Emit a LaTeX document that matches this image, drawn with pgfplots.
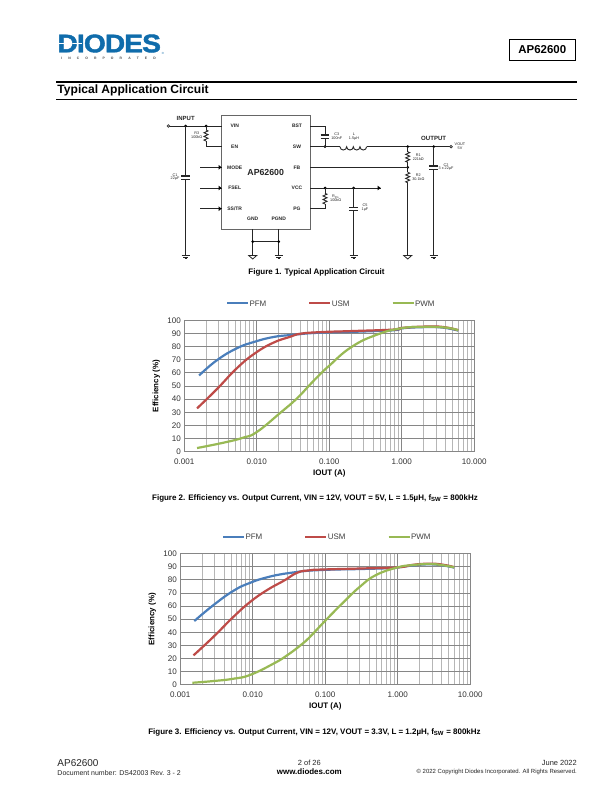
\documentclass[border=0pt]{standalone}
\usepackage{pgfplots}
\pgfplotsset{compat=1.18}
\usepackage{pgfplotstable}
\usepackage{fontspec}
\setmainfont{Liberation Sans}
\newfontfamily\logofont{Liberation Sans}[BoldFeatures={FakeBold=1.6,LetterSpace=-3}]
\definecolor{gridmaj}{HTML}{868686}
\definecolor{gridmin}{HTML}{B6B6B6}
\definecolor{cpfm}{HTML}{4A7EBB}
\definecolor{cusm}{HTML}{BE4B48}
\definecolor{cpwm}{HTML}{98B954}
\definecolor{logoblue}{HTML}{0F6CAB}
\newcommand{\fsz}[1]{\fontsize{#1}{#1}\selectfont}
% Chart data
\pgfplotstableread{
x y
0.0016 58
0.0028 69.5
0.0053 78.7
0.0095 83.8
0.017 87.3
0.029 88.8
0.049 90
0.1 90.8
0.3 91.5
0.8 92.5
1 93.9
2 94.8
3.6 94.5
6 92.2
}\pfmA
\pgfplotstableread{
x y
0.0015 33
0.0028 47.5
0.0053 63.5
0.0095 75
0.017 83
0.029 87.5
0.04 89.8
0.075 91
0.2 91.8
0.8 93
1 94.2
2 95.2
3.6 95
6 92.5
}\usmA
\pgfplotstableread{
x y
0.0015 2.8
0.0035 6.9
0.0065 10.7
0.01 15
0.021 29.5
0.0357 40.5
0.054 51
0.075 59
0.1 65.5
0.2 79.5
0.45 89
1 94
2 95
3.6 94.7
5 93.6
6 92.4
}\pwmA
\pgfplotstableread{
x y
0.00156 48.6
0.00287 60.8
0.00545 71.8
0.0093 77.9
0.0158 82
0.027 84.7
0.046 86.5
0.1 87.7
0.3 88.3
0.8 89
1 89.5
1.6 91
2.7 91.9
4.1 91.1
6 89.4
}\pfmB
\pgfplotstableread{
x y
0.00152 22.4
0.00287 36.6
0.00545 52
0.0093 63.4
0.0158 72.3
0.027 79.5
0.041 85.5
0.06 87.3
0.087 87.9
0.3 88.7
1 89.6
1.6 91.5
2.7 92.4
4.1 91.7
6 89.8
}\usmB
\pgfplotstableread{
x y
0.00147 1.5
0.00287 2.8
0.00545 4.6
0.0093 7.6
0.0196 16.3
0.03 22.6
0.046 30.3
0.0616 36.6
0.1 48.9
0.177 62.8
0.3 74.8
0.5 83.7
1 89.6
1.6 91.3
2.7 92.1
4.1 91.3
6 89.6
}\pwmB
\tikzset{serie/.style={line width=2.2bp,smooth,tension=0.8}}
\newcommand{\ground}[1]{% x position, filled bars to y=255
 \draw[line width=0.9bp] (#1-4,255.5)--(#1+4,255.5);
 \draw[line width=0.9bp] (#1-2.7,257)--(#1+2.7,257);
 \draw[line width=0.9bp] (#1-1.2,258.4)--(#1+1.2,258.4);}
\newcommand{\vground}[1]{%
 \draw[line width=0.8bp] (#1-4,255.5)--(#1,259)--(#1+4,255.5)--cycle;}
\newcommand{\vres}[3]{% x, y top, y bottom
 \pgfmathsetmacro\rs{(#3-#2)/6}
 \draw[line width=0.9bp] (#1,#2)--(#1+2,#2+0.5*\rs)--(#1-2,#2+1.5*\rs)--(#1+2,#2+2.5*\rs)--(#1-2,#2+3.5*\rs)--(#1+2,#2+4.5*\rs)--(#1-2,#2+5.5*\rs)--(#1,#3);}
\newcommand{\vcap}[3]{% x,ytop plate,ybot plate
 \fill[white] (#1-5,#2) rectangle (#1+5,#3);
 \draw[line width=1.2bp] (#1-4.3,#2)--(#1+4.3,#2);
 \draw[line width=1.2bp] (#1-4.3,#3)--(#1+4.3,#3);}
\newcommand{\jd}[2]{\fill (#1,#2) circle (1.5);}
\newcommand{\od}[2]{\draw[line width=0.7bp,fill=white] (#1,#2) circle (1.3);}
\newcommand{\smt}[3]{\node[font=\fsz{3.8},text=black!85,inner sep=0pt,align=center] at (#1,#2) {#3};}
\newcommand{\pinl}[3]{\node[font=\fsz{5}\bfseries,text=black!85,inner sep=0pt] at (#1,#2) {#3};}
\begin{document}
\begin{tikzpicture}[x=1bp,y=-1bp]
\path[fill=white] (0,0) rectangle (612,792);
% ---- header
\node[anchor=west,inner sep=0pt,text=logoblue] at (57.3,43.5) {\resizebox{103.4bp}{17.8bp}{\logofont\bfseries DIODES}};
\draw[white,line width=0.8bp] (57,43.6) -- (69,43.6);
\fill[white] (69,41.5)--(73,43.6)--(69,45.7)--cycle;
\draw[white,line width=0.8bp] (73,43.6) -- (82,43.6);
\node[font=\fsz{3},inner sep=0pt,text=logoblue] at (163,53.5) {®};
\node[anchor=center,inner sep=0pt,text=black!70] at (108.5,58) {\fsz{3.4}\bfseries I\hspace{6.1bp}N\hspace{6.1bp}C\hspace{6.1bp}O\hspace{6.1bp}R\hspace{6.1bp}P\hspace{6.1bp}O\hspace{6.1bp}R\hspace{6.1bp}A\hspace{6.1bp}T\hspace{6.1bp}E\hspace{6.1bp}D};
\draw[line width=0.9bp] (509.3,39.3) rectangle (575.3,60.3);
\node[font=\fsz{11.5}\bfseries,inner sep=0pt] at (542.3,49.7) {AP62600};
\draw[line width=1.6bp] (56,81.7)--(577.3,81.7);
\draw[line width=0.8bp] (56,99)--(577.3,99);
\node[font=\fsz{12.1}\bfseries,anchor=west,inner sep=0pt] at (57.3,90.7) {Typical Application Circuit};
% ---- circuit
\begin{scope}[line width=0.9bp,draw=black!85,text=black!85]
 \draw[draw=black!60,line width=0.9bp] (221.7,115.7) rectangle (310,229.3);
 % left
 \draw (168.8,126)--(221.7,126);
 \od{168.3}{126}
 \jd{185.7}{126}\jd{206}{126}
 \vres{206}{130}{141}
 \draw (206,126)--(206,130); \draw (206,141)--(206,146.7)--(221.7,146.7);
 \draw (185.7,126)--(185.7,255);
 \vcap{185.7}{176}{179.3}
 \ground{185.7}
 \foreach \yy in {167.3,188,208.7}{
   \draw (200,\yy)--(221.7,\yy);
   \fill (218.5,\yy-2.4)--(221.5,\yy)--(218.5,\yy+2.4)--cycle;}
 % bottom
 \draw (252.7,229.3)--(252.7,255);
 \draw (278.7,229.3)--(278.7,255);
 \draw (252.7,241.7)--(278.7,241.7);
 \jd{252.7}{241.7}\jd{278.7}{241.7}
 \vground{252.7}\ground{278.7}
 % right top
 \draw (310,126)--(325,126)--(325,146.7);
 \vcap{325}{135}{138.3}
 \jd{325}{146.7}
 \draw (310,146.7)--(340,146.7);
 \draw (340,146.7) arc[start angle=180,end angle=0,radius=3.33]
       arc[start angle=180,end angle=0,radius=3.33]
       arc[start angle=180,end angle=0,radius=3.33]
       arc[start angle=180,end angle=0,radius=3.33];
 \draw (366.7,146.7)--(450,146.7);
 \jd{407.7}{146.7}\jd{433.7}{146.7}\od{451}{146.7}
 \draw (407.7,146.7)--(407.7,151.7); \vres{407.7}{151.7}{162.3}
 \draw (407.7,162.3)--(407.7,172.3); \jd{407.7}{167.3}
 \vres{407.7}{172.3}{182.7}
 \draw (407.7,182.7)--(407.7,255);
 \vground{407.7}
 \draw (310,167.3)--(407.7,167.3);
 \draw (433.7,146.7)--(433.7,255);
 \vcap{433.7}{166}{169.3}
 \ground{433.7}
 % VCC
 \draw (310,188)--(380.7,188);
 \fill (377.5,185.6)--(380.7,188)--(377.5,190.4)--cycle;
 \jd{325}{188}\jd{353.7}{188}
 \draw (325,188)--(325,193.3); \vres{325}{193.3}{204}
 \draw (325,204)--(325,208.7)--(310,208.7);
 \draw (353.7,188)--(353.7,255);
 \vcap{353.7}{207.3}{210.7}
 \ground{353.7}
 % labels
 \node[font=\fsz{6}\bfseries,inner sep=0pt] at (185.7,118.7) {INPUT};
 \node[font=\fsz{6.1}\bfseries,inner sep=0pt] at (433.7,138.3) {OUTPUT};
 \node[font=\fsz{8.8}\bfseries,inner sep=0pt] at (265.7,172) {AP62600};
 \pinl{234.7}{126}{VIN}\pinl{234.7}{146.3}{EN}\pinl{234.7}{167.3}{MODE}\pinl{234.7}{188}{FSEL}\pinl{234.7}{208.7}{SS/TR}
 \pinl{297}{126}{BST}\pinl{297}{146.3}{SW}\pinl{297}{167.3}{FB}\pinl{297}{188}{VCC}\pinl{297}{208.7}{PG}
 \pinl{252.7}{219}{GND}\pinl{278.7}{219}{PGND}
 \smt{196.7}{135.5}{R3\\100kΩ}
 \smt{175}{177}{C1\\22µF}
 \smt{336.7}{136}{C3\\100nF}
 \smt{354}{136.8}{L\\1.5µH}
 \smt{418.3}{157}{R1\\221kΩ}
 \smt{418.3}{177}{R2\\30.1kΩ}
 \smt{446}{167}{C2\\3 x 22µF}
 \smt{460}{146}{VOUT\\5V}
 \smt{335.7}{198}{R\textsubscript{PG}\\100kΩ}
 \smt{365}{207.7}{C5\\1µF}
\end{scope}
\node[font=\fsz{8}\bfseries,inner sep=0pt] at (316.5,272.5) {Figure 1. Typical Application Circuit};
% ---- chart 1
\begin{semilogxaxis}[at={(184.3bp,-451.7bp)},anchor=south west,scale only axis,width=290bp,height=131.4bp,
  xmin=0.001,xmax=10,ymin=0,ymax=100,
  xtick={0.001,0.01,0.1,1,10},
  xticklabels={0.001,0.010,0.100,1.000,10.000},
  ytick={0,10,...,100},
  minor xtick={0.002,0.003,0.004,0.005,0.006,0.007,0.008,0.009,0.02,0.03,0.04,0.05,0.06,0.07,0.08,0.09,0.2,0.3,0.4,0.5,0.6,0.7,0.8,0.9,2,3,4,5,6,7,8,9},
  xmajorgrids, xminorgrids, ymajorgrids,
  major grid style={draw=gridmaj,line width=0.9bp},
  minor grid style={draw=gridmin,line width=0.9bp},
  axis line style={draw=gridmaj,line width=0.9bp},
  major tick length=0pt, minor tick length=0pt,
  tick style={draw=none},
  tick label style={font=\fsz{8.1}, text=black!80, /pgf/number format/assume math mode=true},
  xticklabel style={yshift=-3.5bp},
  xlabel={\bfseries IOUT (A)}, ylabel={\bfseries Efficiency (\%)},
  label style={font=\fsz{8}},
  xlabel style={at={(axis description cs:0.5,0)},anchor=center,yshift=-22bp},
  ylabel style={at={(axis description cs:0,0.5)},anchor=center,yshift=28bp},
  legend columns=3,
  legend style={draw=none,fill=none,font=\fsz{8},text=black!75,inner sep=0pt,outer sep=0pt,
    at={(axis description cs:0,1)},anchor=west,
    nodes={inner sep=0.6bp,anchor=west,text depth=0pt},
    xshift=41.8bp,yshift=17bp,/tikz/column 2/.style={column sep=41.5bp},/tikz/column 4/.style={column sep=41.5bp}},
  legend cell align=left,
  legend image code/.code={\draw[#1,line width=1.8bp](0bp,0bp)--(21bp,0bp);}]
\addplot[cpfm,serie] table {\pfmA}; \addlegendentry{PFM}
\addplot[cusm,serie] table {\usmA}; \addlegendentry{USM}
\addplot[cpwm,serie] table {\pwmA}; \addlegendentry{PWM}
\end{semilogxaxis}
\node[font=\fsz{8}\bfseries,inner sep=0pt] at (315,498) {Figure 2. Efficiency vs. Output Current, VIN = 12V, VOUT = 5V, L = 1.5µH, f\textsubscript{SW} = 800kHz};
% ---- chart 2
\begin{semilogxaxis}[at={(180.3bp,-684.7bp)},anchor=south west,scale only axis,width=290bp,height=131bp,
  xmin=0.001,xmax=10,ymin=0,ymax=100,
  xtick={0.001,0.01,0.1,1,10},
  xticklabels={0.001,0.010,0.100,1.000,10.000},
  ytick={0,10,...,100},
  minor xtick={0.002,0.003,0.004,0.005,0.006,0.007,0.008,0.009,0.02,0.03,0.04,0.05,0.06,0.07,0.08,0.09,0.2,0.3,0.4,0.5,0.6,0.7,0.8,0.9,2,3,4,5,6,7,8,9},
  xmajorgrids, xminorgrids, ymajorgrids,
  major grid style={draw=gridmaj,line width=0.9bp},
  minor grid style={draw=gridmin,line width=0.9bp},
  axis line style={draw=gridmaj,line width=0.9bp},
  major tick length=0pt, minor tick length=0pt,
  tick style={draw=none},
  tick label style={font=\fsz{8.1}, text=black!80, /pgf/number format/assume math mode=true},
  xticklabel style={yshift=-3.5bp},
  xlabel={\bfseries IOUT (A)}, ylabel={\bfseries Efficiency (\%)},
  label style={font=\fsz{8}},
  xlabel style={at={(axis description cs:0.5,0)},anchor=center,yshift=-22bp},
  ylabel style={at={(axis description cs:0,0.5)},anchor=center,yshift=28bp},
  legend columns=3,
  legend style={draw=none,fill=none,font=\fsz{8},text=black!75,inner sep=0pt,outer sep=0pt,
    at={(axis description cs:0,1)},anchor=west,
    nodes={inner sep=0.6bp,anchor=west,text depth=0pt},
    xshift=41.8bp,yshift=16.8bp,/tikz/column 2/.style={column sep=41.5bp},/tikz/column 4/.style={column sep=41.5bp}},
  legend cell align=left,
  legend image code/.code={\draw[#1,line width=1.8bp](0bp,0bp)--(21bp,0bp);}]
\addplot[cpfm,serie] table {\pfmB}; \addlegendentry{PFM}
\addplot[cusm,serie] table {\usmB}; \addlegendentry{USM}
\addplot[cpwm,serie] table {\pwmB}; \addlegendentry{PWM}
\end{semilogxaxis}
\node[font=\fsz{8}\bfseries,inner sep=0pt] at (314.5,732) {Figure 3. Efficiency vs. Output Current, VIN = 12V, VOUT = 3.3V, L = 1.2µH, f\textsubscript{SW} = 800kHz};
% ---- footer
\node[font=\fsz{10},anchor=west,inner sep=0pt,text=black!85] at (57.3,763.5) {AP62600};
\node[font=\fsz{7},anchor=west,inner sep=0pt,text=black!85] at (57.3,773) {Document number: DS42003 Rev. 3 - 2};
\node[font=\fsz{7.5},inner sep=0pt,text=black!85] at (309.3,763.3) {2 of 26};
\node[font=\fsz{8}\bfseries,inner sep=0pt] at (309.3,772) {www.diodes.com};
\node[font=\fsz{7.5},anchor=east,inner sep=0pt,text=black!85] at (577,763.3) {June 2022};
\node[font=\fsz{6},anchor=east,inner sep=0pt,text=black!85] at (577,771.8) {© 2022 Copyright Diodes Incorporated. All Rights Reserved.};
\end{tikzpicture}
\end{document}
